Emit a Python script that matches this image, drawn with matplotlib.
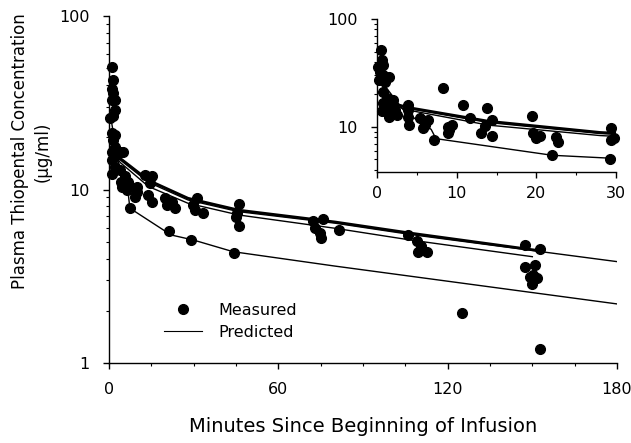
import matplotlib
matplotlib.use("Agg")
import matplotlib.pyplot as plt
from matplotlib.ticker import FixedLocator, MultipleLocator, NullFormatter, FuncFormatter
from matplotlib.lines import Line2D

# measured concentrations, main panel (minutes, ug/ml)
meas_t = [1.2, 1.3, 1.2, 1.3, 1.0, 2.1, 2.2, 0.35, 1.3, 0.9, 2.0, 1.3, 2.0, 0.9, 3.9,
          5.1, 2.6, 1.0, 2.0, 3.9, 1.0, 5.7, 6.8, 4.4, 4.5, 6.3, 6.7, 7.4,
          9.8, 10.0, 9.2, 12.8, 15.1, 14.5, 13.9, 15.1,
          19.8, 20.4, 23.4, 22.2, 21.4,
          29.2, 31.1, 29.9, 30.5, 33.4,
          44.2, 46.0, 45.4, 45.0, 46.0,
          72.4, 76.0, 73.0, 74.8, 75.0, 81.4,
          106.0, 109.0, 109.6, 112.6, 110.5,
          125.2,
          147.4, 152.8, 147.4, 151.0, 150.4, 151.5, 149.8, 149.0,
          152.8]
meas_c = [51, 42.7, 38.2, 35.8, 32.6, 32.6, 28.7, 25.7, 26.5, 21.1, 20.6, 19.2, 17.6, 16.5, 16.5,
          16.5, 15.8, 14.8, 13.5, 12.9, 12.3, 11.9, 10.8, 11.1, 10.4, 9.9, 11.1, 7.8,
          10.4, 9.7, 9.1, 12.1, 11.9, 10.9, 9.3, 8.5,
          8.9, 8.1, 7.8, 8.5, 5.74,
          5.14, 8.9, 8.1, 7.6, 7.3,
          4.29, 8.2, 7.36, 6.9, 6.14,
          6.58, 6.73, 6.0, 5.62, 5.25, 5.87,
          5.5, 5.02, 4.39, 4.39, 4.7,
          1.95,
          4.8, 4.53, 3.58, 3.66, 3.2, 3.1, 2.86, 3.15,
          1.2]

# measured concentrations, inset (first 30 minutes)
ins_t = [0.46, 0.59, 0.7, 0.17, 0.4, 0.8, 0.3, 1.55, 1.0, 0.8, 1.2, 0.8, 1.4, 2.05, 1.0,
         1.7, 2.26, 1.55, 2.55, 0.6, 3.93, 3.93, 3.9, 4.05, 5.4, 6.0, 5.8, 6.4, 7.15,
         8.24, 8.95, 9.37, 8.95, 9.1, 10.8, 11.7, 13.8, 14.4, 13.55, 13.1, 14.4,
         19.4, 19.6, 20.0, 20.4, 22.5, 22.7, 22.0, 29.4, 29.4, 29.8, 29.2]
ins_c = [51.6, 41.7, 37.5, 36.1, 32.5, 30.3, 27.3, 29.2, 26.3, 21.2, 18.5, 16.6, 16.6, 17.8, 14.9,
         15.4, 14.4, 12.5, 12.9, 14.0, 16.0, 14.4, 12.5, 10.4, 12.0, 10.4, 9.7, 11.6, 7.58,
         22.8, 10.1, 10.4, 8.86, 9.3, 16.0, 12.0, 14.9, 11.6, 10.2, 8.74, 8.25,
         12.6, 8.74, 7.86, 8.2, 8.13, 7.31, 5.51, 9.72, 7.58, 7.86, 5.02]

# predicted curves
pa_t = [2, 4, 14, 28, 46, 80, 107, 152]
pa_c = [16.5, 15.1, 11.3, 8.9, 7.6, 6.5, 5.6, 4.45]
pb_t = [2, 4, 14, 28, 46, 80, 107, 150]
pb_c = [15.8, 14.3, 10.4, 8.33, 7.13, 5.98, 5.11, 4.1]
pc_t = [2, 4, 14, 28, 46, 80, 107, 150, 180]
pc_c = [16.2, 14.8, 11.0, 8.7, 7.45, 6.4, 5.5, 4.45, 3.84]
pd_t = [0.8, 3.3, 5, 6.8, 7.4, 22, 30, 44, 80, 180]
pd_c = [25, 14.4, 11.6, 9.5, 7.8, 5.47, 5.11, 4.38, 3.62, 2.19]

plt.rcParams['font.family'] = 'DejaVu Sans'

fig = plt.figure(figsize=(6.31, 4.43), dpi=100)
ax = fig.add_axes([109/631, 80/443, 508/631, 347/443])
ins = fig.add_axes([377/631, 271/443, 239/631, 153/443])


def draw(a):
    a.plot(pa_t, pa_c, color='k', lw=2.0)
    a.plot(pc_t, pc_c, color='k', lw=1.0)
    a.plot(pb_t, pb_c, color='k', lw=1.0)
    a.plot(pd_t, pd_c, color='k', lw=1.0)


draw(ax)
ax.plot(meas_t, meas_c, 'o', color='k', ms=7, clip_on=False)
draw(ins)
ins.plot(ins_t, ins_c, 'o', color='k', ms=7, clip_on=False)

for a in (ax, ins):
    a.set_yscale('log')
    for s in ('top', 'right'):
        a.spines[s].set_visible(False)
    a.spines['left'].set_linewidth(1.0)
    a.spines['bottom'].set_linewidth(1.0)
    a.yaxis.set_major_formatter(FuncFormatter(lambda v, p: '%g' % v))
    a.yaxis.set_minor_formatter(NullFormatter())
    a.tick_params(which='major', direction='out', length=4, width=1, labelsize=11.5, pad=10)
    a.tick_params(which='minor', direction='out', length=2.5, width=0.8)
    a.patch.set_alpha(0)

ins.tick_params(axis='x', which='major', pad=6)

ax.set_xlim(0, 180)
ax.set_ylim(1, 100)
ax.xaxis.set_major_locator(FixedLocator([0, 60, 120, 180]))
ax.xaxis.set_minor_locator(MultipleLocator(15))
ax.yaxis.set_major_locator(FixedLocator([1, 10, 100]))

ins.set_xlim(0, 30)
ins.set_ylim(3.83, 100)
ins.xaxis.set_major_locator(FixedLocator([0, 10, 20, 30]))
ins.xaxis.set_minor_locator(MultipleLocator(5))
ins.yaxis.set_major_locator(FixedLocator([10, 100]))

ax.set_xlabel('Minutes Since Beginning of Infusion', fontsize=14, labelpad=14)
ax.set_ylabel('Plasma Thiopental Concentration\n(\u00b5g/ml)', fontsize=12, linespacing=1.4)
ax.yaxis.set_label_coords(-0.112, 0.61)

handles = [Line2D([], [], marker='o', color='k', ls='none', ms=7),
           Line2D([], [], color='k', lw=0.8)]
ax.legend(handles, ['Measured', 'Predicted'], loc='upper left',
          bbox_to_anchor=(0.08, 0.215), frameon=False, fontsize=11.5,
          handlelength=2.4, handletextpad=1.0, labelspacing=0.45)

fig.savefig('out.png', dpi=100)
